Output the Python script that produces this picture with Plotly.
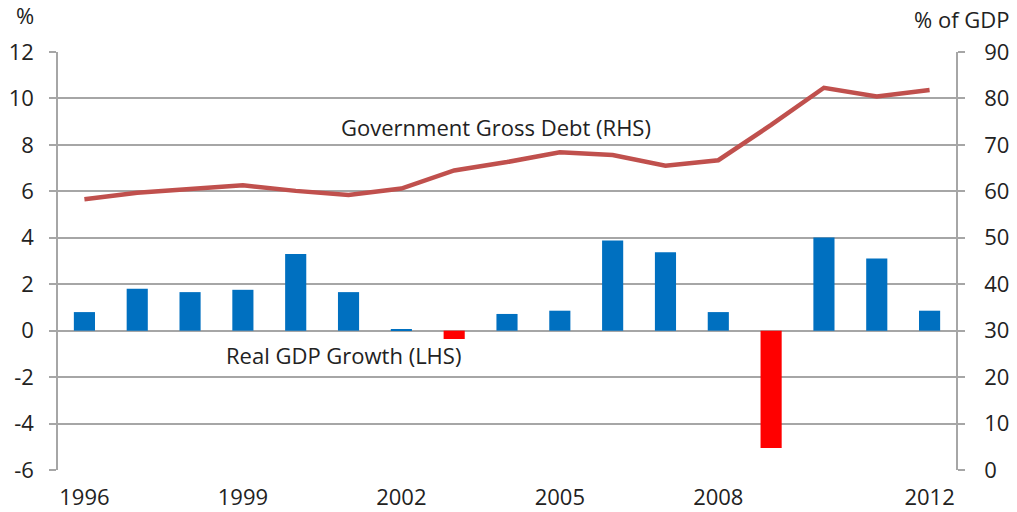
import plotly.graph_objects as go

# Annual series, 1996-2012
years = list(range(1996, 2013))
gdp_growth = [0.80, 1.81, 1.66, 1.76, 3.30, 1.66, 0.07, -0.36, 0.72,
              0.86, 3.88, 3.38, 0.80, -5.05, 4.01, 3.11, 0.86]
gross_debt = [58.3, 59.7, 60.5, 61.3, 60.1, 59.2, 60.6, 64.5, 66.3,
              68.4, 67.8, 65.5, 66.7, 74.3, 82.3, 80.4, 81.8]

x_tick_years = [1996, 1999, 2002, 2005, 2008, 2012]
left_ticks = list(range(-6, 13, 2))
right_ticks = list(range(0, 91, 10))

FONT = "Open Sans"
TEXT = "#222222"
GRID = "#a6a6a6"
TICK_SIZE = 22
NOTE_SIZE = 22

bar_colors = ["#ff0000" if v < 0 else "#0070c0" for v in gdp_growth]

fig = go.Figure()
fig.add_trace(go.Bar(
    x=years, y=gdp_growth, width=0.4,
    marker=dict(color=bar_colors, line=dict(width=0)),
    yaxis="y", showlegend=False,
))
fig.add_trace(go.Scatter(
    x=years, y=gross_debt, mode="lines",
    line=dict(color="#c0504d", width=4.5),
    yaxis="y2", showlegend=False,
))

fig.update_layout(
    width=1017, height=512,
    margin=dict(l=58, r=61, t=52, b=42),
    paper_bgcolor="white", plot_bgcolor="white",
    font=dict(family=FONT, size=TICK_SIZE, color=TEXT),
    xaxis=dict(
        range=[1995.5, 2012.5],
        tickvals=x_tick_years,
        ticktext=[str(y) for y in x_tick_years],
        showgrid=False, zeroline=False,
        showline=False, ticks="",
        ticklabelstandoff=12,
        automargin=False,
        tickfont=dict(size=TICK_SIZE, color=TEXT),
    ),
    yaxis=dict(
        range=[-6, 12], tickvals=left_ticks,
        ticktext=[str(v) for v in left_ticks],
        showgrid=True, gridcolor=GRID, gridwidth=1.5,
        zeroline=False,
        showline=True, linecolor=GRID, linewidth=1.5,
        ticks="outside", ticklen=7, tickcolor=GRID, tickwidth=1.5,
        ticklabelstandoff=11,
        automargin=False,
        tickfont=dict(size=TICK_SIZE, color=TEXT),
    ),
    yaxis2=dict(
        range=[0, 90], tickvals=right_ticks,
        overlaying="y", side="right",
        showgrid=False, zeroline=False,
        showline=True, linecolor=GRID, linewidth=1.5,
        ticks="outside", ticklen=7, tickcolor=GRID, tickwidth=1.5,
        ticklabelstandoff=15,
        automargin=False,
        tickfont=dict(size=TICK_SIZE, color=TEXT),
    ),
    annotations=[
        dict(text="%", xref="paper", yref="paper", x=-0.037, y=1.0,
             yshift=20, xanchor="center", yanchor="bottom",
             showarrow=False, font=dict(size=NOTE_SIZE, color=TEXT)),
        dict(text="% of GDP", xref="paper", yref="paper", x=1.0, y=1.0,
             xshift=55, yshift=16, xanchor="right", yanchor="bottom",
             showarrow=False, font=dict(size=NOTE_SIZE, color=TEXT)),
        dict(text="Government Gross Debt (RHS)", xref="x", yref="y2",
             x=2003.8, y=73.9, xanchor="center", yanchor="middle",
             showarrow=False, font=dict(size=NOTE_SIZE, color=TEXT)),
        dict(text="Real GDP Growth (LHS)", xref="x", yref="y",
             x=2000.9, y=-1.03, xanchor="center", yanchor="middle",
             showarrow=False, font=dict(size=NOTE_SIZE, color=TEXT)),
    ],
)

fig.write_html("out.html")
